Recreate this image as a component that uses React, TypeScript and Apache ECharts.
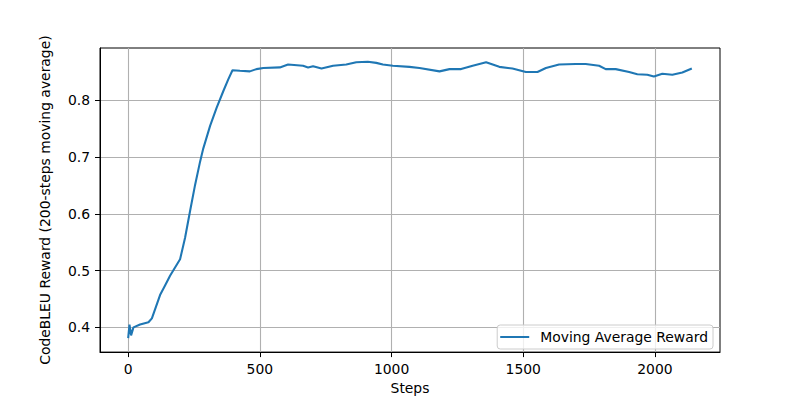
import React, { useEffect, useRef } from "react";
import * as echarts from "echarts";

const steps = [
  0, 5, 11, 20, 45, 77, 90, 121, 140, 159, 197, 216, 235, 254, 273, 285, 311, 336, 361, 380, 396,
  424, 462, 487, 513, 576, 607, 664, 683, 702, 734, 778, 828, 866, 910, 942, 967, 1005, 1068, 1106,
  1182, 1220, 1264, 1308, 1359, 1409, 1459, 1510, 1554, 1586, 1636, 1699, 1737, 1788, 1813, 1851,
  1902, 1933, 1971, 1996, 2028, 2066, 2104, 2140,
];
const rewards = [
  0.381, 0.405, 0.386, 0.4, 0.405, 0.409, 0.416, 0.457, 0.474, 0.491, 0.52, 0.558, 0.605, 0.651,
  0.692, 0.715, 0.755, 0.787, 0.816, 0.837, 0.853, 0.852, 0.851, 0.855, 0.857, 0.858, 0.863, 0.861,
  0.858, 0.86, 0.856, 0.861, 0.863, 0.867, 0.868, 0.866, 0.863, 0.861, 0.859, 0.857, 0.851, 0.855,
  0.855, 0.861, 0.867, 0.859, 0.856, 0.85, 0.85, 0.857, 0.863, 0.864, 0.864, 0.861, 0.855, 0.855,
  0.85, 0.846, 0.845, 0.842, 0.847, 0.845, 0.849, 0.856,
];
const xTicks = [0, 500, 1000, 1500, 2000];
const yTicks = [0.4, 0.5, 0.6, 0.7, 0.8];
const seriesName = "Moving Average Reward";
const xLabel = "Steps";
const yLabel = "CodeBLEU Reward (200-steps moving average)";

export default function App() {
  const ref = useRef<HTMLDivElement>(null);
  useEffect(() => {
    const chart = echarts.init(ref.current as HTMLDivElement, null, { renderer: "svg" });
    const font = "DejaVu Sans";
    const fs = 13.9;
    chart.setOption({
      animation: false,
      backgroundColor: "#ffffff",
      textStyle: { fontFamily: font },
      grid: {
        left: 100,
        right: 80,
        top: 48,
        bottom: 44,
        show: true,
        borderColor: "#000000",
        borderWidth: 1,
        backgroundColor: "transparent",
      },
      legend: {
        right: 87,
        bottom: 51,
        data: [{ name: seriesName, icon: "rect" }],
        backgroundColor: "rgba(255,255,255,0.8)",
        borderColor: "#cccccc",
        borderWidth: 1,
        borderRadius: 3,
        padding: [5, 5, 5, 3],
        itemWidth: 29,
        itemHeight: 2,
        itemStyle: { color: "#1f77b4" },
        textStyle: { fontSize: fs, color: "#000000", fontFamily: font, padding: [0, 0, 0, 6] },
      },
      xAxis: {
        type: "value",
        min: -107,
        max: 2247,
        name: xLabel,
        nameLocation: "middle",
        nameGap: 27,
        nameTextStyle: { fontSize: fs, color: "#000000", fontFamily: font },
        axisLine: { show: true, onZero: false, lineStyle: { color: "#000000", width: 1 } },
        axisTick: { show: true, customValues: xTicks, length: 5, lineStyle: { color: "#000000", width: 1 } },
        axisLabel: {
          customValues: xTicks,
          margin: 10,
          fontSize: fs,
          color: "#000000",
          fontFamily: font,
          formatter: (v: number) => String(v),
        },
        splitLine: { show: true, lineStyle: { color: "#b0b0b0", width: 1.1 } },
      },
      yAxis: {
        type: "value",
        min: 0.3565,
        max: 0.8922,
        name: yLabel,
        nameLocation: "middle",
        nameGap: 48,
        nameTextStyle: { fontSize: fs, color: "#000000", fontFamily: font },
        axisLine: { show: true, onZero: false, lineStyle: { color: "#000000", width: 1 } },
        axisTick: { show: true, customValues: yTicks, length: 5, lineStyle: { color: "#000000", width: 1 } },
        axisLabel: {
          customValues: yTicks,
          margin: 10,
          fontSize: fs,
          color: "#000000",
          fontFamily: font,
          formatter: (v: number) => v.toFixed(1),
        },
        splitLine: { show: true, lineStyle: { color: "#b0b0b0", width: 1.1 } },
      },
      series: [
        {
          name: seriesName,
          type: "line",
          data: steps.map((s, i) => [s, rewards[i]]),
          symbol: "none",
          lineStyle: { color: "#1f77b4", width: 2.08 },
          itemStyle: { color: "#1f77b4" },
        },
      ],
    });
    return () => chart.dispose();
  }, []);
  return (
    <div
      ref={ref}
      style={{ position: "fixed", left: 0, top: 0, width: 800, height: 400, background: "#fff" }}
    />
  );
}
